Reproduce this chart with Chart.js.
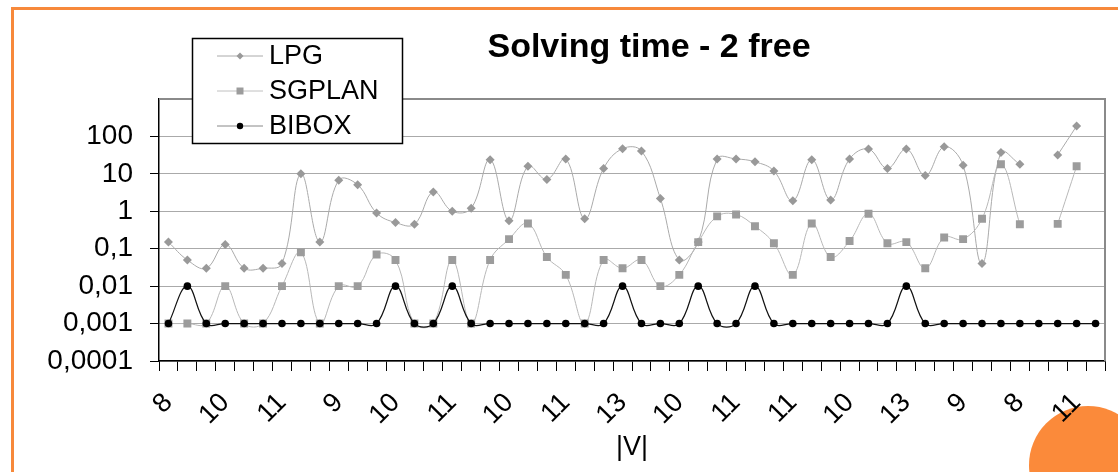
<!DOCTYPE html>
<html>
<head>
<meta charset="utf-8">
<script src="https://cdn.jsdelivr.net/npm/chart.js@4"></script>
<style>
  html, body { margin: 0; padding: 0; background: #fff; }
  #wrap { position: relative; width: 1118px; height: 472px; overflow: hidden; }
  #frame { position: absolute; left: 11px; top: 7px; width: 1200px; height: 600px;
           border-top: 3px solid #f7893b; border-left: 3px solid #f7893b; }
  #dot { position: absolute; left: 1029px; top: 406px; width: 118px; height: 118px;
         border-radius: 50%; background: #fb8a3a; }
  canvas { position: absolute; left: 0; top: 0; }
</style>
</head>
<body>
<div id="wrap">
  <div id="frame"></div>
  <div id="dot"></div>
  <canvas id="chart" width="1118" height="472"></canvas>
</div>
<script>
// |V| shown under every third instance
const vLabels = ['8', '10', '11', '9', '10', '11', '10', '11', '13', '10', '11', '11', '10', '13', '9', '8', '11'];
const categories = Array.from({ length: 50 }, (_, i) => (i % 3 === 0 ? vLabels[i / 3] : ''));

// solving times (s)
const lpg = [
  0.15, 0.05, 0.03, 0.13, 0.03, 0.03, 0.04, 10, 0.15, 6.8,
  5.1, 0.9, 0.5, 0.45, 3.3, 1.0, 1.2, 24, 0.56, 16,
  7.1, 25, 0.63, 14, 47, 41, 2.2, 0.05, 0.15, 25,
  25, 21, 12, 1.9, 24, 2.0, 25, 46, 14, 46,
  9, 53, 17, 0.04, 37, 18, null, 32, 190, null
];
const sgplan = [
  0.001, 0.001, 0.001, 0.01, 0.001, 0.001, 0.01, 0.08, 0.001, 0.01,
  0.01, 0.07, 0.05, 0.001, 0.001, 0.05, 0.001, 0.05, 0.18, 0.47,
  0.06, 0.02, 0.001, 0.05, 0.03, 0.05, 0.01, 0.02, 0.15, 0.73,
  0.82, 0.4, 0.14, 0.02, 0.47, 0.06, 0.16, 0.86, 0.14, 0.15,
  0.03, 0.2, 0.18, 0.63, 18, 0.45, null, 0.46, 16, null
];
const bibox = [
  0.001, 0.01, 0.001, 0.001, 0.001, 0.001, 0.001, 0.001, 0.001, 0.001,
  0.001, 0.001, 0.01, 0.001, 0.001, 0.01, 0.001, 0.001, 0.001, 0.001,
  0.001, 0.001, 0.001, 0.001, 0.01, 0.001, 0.001, 0.001, 0.01, 0.001,
  0.001, 0.01, 0.001, 0.001, 0.001, 0.001, 0.001, 0.001, 0.001, 0.01,
  0.001, 0.001, 0.001, 0.001, 0.001, 0.001, 0.001, 0.001, 0.001, 0.001
];

const yTickValues = [0.0001, 0.001, 0.01, 0.1, 1, 10, 100];
const yTickLabels = ['0,0001', '0,001', '0,01', '0,1', '1', '10', '100'];

const FONT = 'Liberation Sans, Arial, sans-serif';

// title, plot frame (top/right) and the boxed legend
const decorations = {
  id: 'decorations',
  beforeDatasetsDraw(chart) {
    const { ctx, chartArea: a } = chart;
    ctx.save();
    ctx.strokeStyle = '#8a8a8a';
    ctx.lineWidth = 2;
    ctx.beginPath();
    ctx.moveTo(a.left, a.top);
    ctx.lineTo(a.right, a.top);
    ctx.lineTo(a.right, a.bottom);
    ctx.stroke();
    ctx.restore();
  },
  afterDraw(chart) {
    const ctx = chart.ctx;
    ctx.save();
    ctx.fillStyle = '#000';
    ctx.font = 'bold 34px ' + FONT;
    ctx.textAlign = 'center';
    ctx.textBaseline = 'middle';
    ctx.fillText('Solving time - 2 free', 649, 48);

    // legend box
    ctx.fillStyle = '#fff';
    ctx.fillRect(192, 38, 211, 106);
    ctx.strokeStyle = '#000';
    ctx.lineWidth = 1.5;
    ctx.strokeRect(192.5, 38.5, 210, 105);

    ctx.font = '27px ' + FONT;
    ctx.textAlign = 'left';
    chart.data.datasets.forEach((ds, i) => {
      const y = 56 + i * 35;
      ctx.strokeStyle = ds.legendLine;
      ctx.lineWidth = 1;
      ctx.beginPath();
      ctx.moveTo(217, y);
      ctx.lineTo(263, y);
      ctx.stroke();
      ctx.fillStyle = ds.pointBackgroundColor;
      ctx.beginPath();
      if (ds.pointStyle === 'rectRot') {
        ctx.moveTo(240, y - 3.5); ctx.lineTo(243.5, y); ctx.lineTo(240, y + 3.5); ctx.lineTo(236.5, y);
      } else if (ds.pointStyle === 'rect') {
        ctx.rect(236.5, y - 3.5, 7, 7);
      } else {
        ctx.arc(240, y, 3.2, 0, Math.PI * 2);
      }
      ctx.fill();
      ctx.fillStyle = '#000';
      ctx.fillText(ds.label, 269, y + 1);
    });
    ctx.restore();
  }
};

new Chart(document.getElementById('chart'), {
  type: 'line',
  data: {
    labels: categories,
    datasets: [
      {
        label: 'LPG', data: lpg,
        borderColor: '#aaaaaa', borderWidth: 1, legendLine: '#aaaaaa',
        pointStyle: 'rectRot', pointRadius: 4.5, pointBorderWidth: 0,
        pointBackgroundColor: '#999999', tension: 0.4, order: 3
      },
      {
        label: 'SGPLAN', data: sgplan,
        borderColor: '#b8b8b8', borderWidth: 1, legendLine: '#c0c0c0',
        pointStyle: 'rect', pointRadius: 5.6, pointBorderWidth: 0,
        pointBackgroundColor: '#9c9c9c', tension: 0.4, order: 2
      },
      {
        label: 'BIBOX', data: bibox,
        borderColor: '#111111', borderWidth: 1.2, legendLine: '#888888',
        pointStyle: 'circle', pointRadius: 3.8, pointBorderWidth: 0,
        pointBackgroundColor: '#000000', tension: 0.4, order: 1
      }
    ]
  },
  options: {
    responsive: false,
    animation: false,
    layout: { padding: { top: 99, right: 13, bottom: 0, left: 0 } },
    plugins: { legend: { display: false }, tooltip: { enabled: false } },
    scales: {
      x: {
        offset: true,
        grid: {
          offset: true, drawOnChartArea: false, drawTicks: true,
          tickLength: 10, tickColor: '#000', tickWidth: 1
        },
        border: { display: true, color: '#000', width: 1.5 },
        ticks: {
          autoSkip: false, minRotation: 45, maxRotation: 45, padding: 16,
          color: '#000', font: { family: FONT, size: 27 }
        },
        title: {
          display: true, text: '|V|', color: '#000',
          font: { family: FONT, size: 27 }, padding: { top: 0, bottom: 8 }
        },
        afterFit(scale) {
          scale.height = 111;
          scale.paddingLeft = 0;
          scale.paddingRight = 0;
        }
      },
      y: {
        type: 'logarithmic',
        min: 0.0001,
        max: 1000,
        afterBuildTicks(scale) {
          scale.ticks = yTickValues.map(value => ({ value }));
        },
        grid: {
          color: '#555', lineWidth: 1, drawTicks: true, borderDash: [1, 1],
          tickLength: 9, tickColor: '#000', tickWidth: 1, tickBorderDash: []
        },
        border: { display: true, color: '#000', width: 1.5, dash: [1, 1] },
        ticks: {
          padding: 17, color: '#000',
          font: { family: FONT, size: 28 },
          callback: (value, index) => yTickLabels[index]
        },
        afterFit(scale) {
          scale.width = 159;
          scale.paddingTop = 0;
          scale.paddingBottom = 0;
        }
      }
    }
  },
  plugins: [decorations]
});
</script>
</body>
</html>
